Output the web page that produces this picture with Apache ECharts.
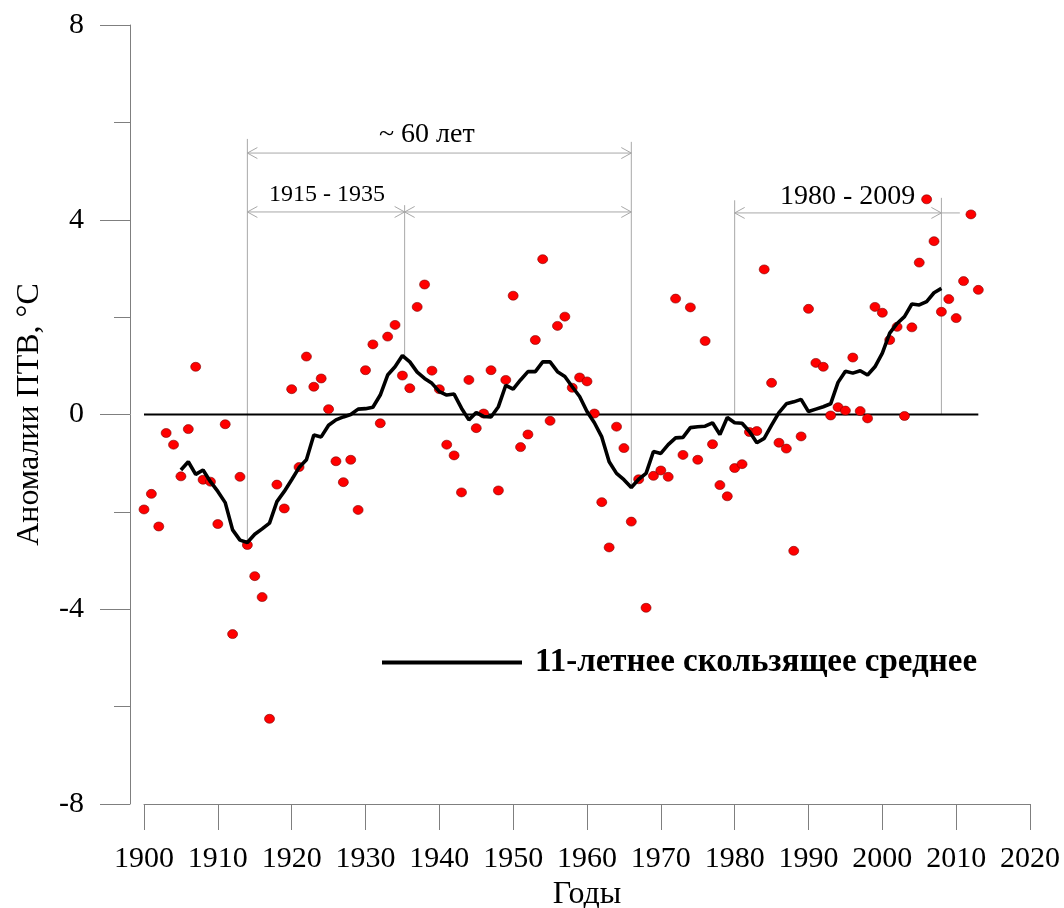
<!DOCTYPE html>
<html>
<head>
<meta charset="utf-8">
<script src="https://cdn.jsdelivr.net/npm/echarts@6/dist/echarts.min.js"></script>
<style>
  html, body { margin: 0; padding: 0; background: #fff; }
  #chart { width: 1064px; height: 908px; }
</style>
</head>
<body>
<div id="chart"></div>
<script>
// Annual air temperature anomalies (°C), one value per year starting at FIRST_YEAR
const FIRST_YEAR = 1900;
const anomalies = [
  -1.95, -1.63, -2.30, -0.38, -0.62, -1.27, -0.30, 0.98, -1.34, -1.38,
  -2.25, -0.20, -4.51, -1.28, -2.68, -3.32, -3.75, -6.25, -1.44, -1.93,
  0.52, -1.08, 1.19, 0.57, 0.74, 0.11, -0.96, -1.39, -0.93, -1.96,
  0.91, 1.44, -0.18, 1.60, 1.84, 0.80, 0.54, 2.21, 2.67, 0.90,
  0.52, -0.62, -0.84, -1.60, 0.71, -0.28, 0.02, 0.91, -1.56, 0.71,
  2.44, -0.67, -0.41, 1.53, 3.19, -0.13, 1.82, 2.01, 0.55, 0.76,
  0.68, 0.02, -1.80, -2.73, -0.25, -0.69, -2.20, -1.33, -3.97, -1.26,
  -1.15, -1.28, 2.38, -0.83, 2.20, -0.93, 1.51, -0.61, -1.45, -1.68,
  -1.10, -1.02, -0.36, -0.34, 2.98, 0.65, -0.58, -0.70, -2.80, -0.45,
  2.17, 1.06, 0.98, -0.02, 0.15, 0.08, 1.17, 0.07, -0.08, 2.21,
  2.09, 1.53, 1.80, -0.03, 1.79, 3.12, 4.42, 3.56, 2.11, 2.37,
  1.98, 2.74, 4.11, 2.56
];

// 11-year running mean, one value per year starting at MA_FIRST_YEAR
const MA_FIRST_YEAR = 1905;
const movingAverage = [
  -1.14, -0.97, -1.23, -1.14, -1.38, -1.58, -1.81, -2.37, -2.58, -2.63,
  -2.46, -2.35, -2.23, -1.79, -1.58, -1.34, -1.09, -0.93, -0.42, -0.46,
  -0.22, -0.11, -0.05, 0.00, 0.11, 0.12, 0.15, 0.40, 0.81, 0.98,
  1.21, 1.08, 0.87, 0.74, 0.64, 0.47, 0.40, 0.42, 0.13, -0.11,
  0.04, -0.04, -0.05, 0.16, 0.60, 0.52, 0.71, 0.88, 0.88, 1.08,
  1.08, 0.88, 0.78, 0.57, 0.37, 0.06, -0.17, -0.46, -0.97, -1.21,
  -1.34, -1.50, -1.33, -1.21, -0.76, -0.80, -0.62, -0.48, -0.47, -0.27,
  -0.25, -0.24, -0.17, -0.41, -0.06, -0.17, -0.18, -0.35, -0.58, -0.49,
  -0.22, 0.04, 0.22, 0.26, 0.31, 0.06, 0.11, 0.16, 0.22, 0.66,
  0.89, 0.85, 0.90, 0.81, 0.98, 1.26, 1.67, 1.87, 2.01, 2.27,
  2.25, 2.32, 2.50, 2.59
];

// Reference (zero) line span in years
const zeroLineYears = [1900, 2013];

// Period brackets in data units: [x1, y1, x2, y2, arrowheads (0 none, 3 both ends)]
const periodBrackets = [
  [1914, 5.66, 1914, -2.6, 0],
  [1935.3, 4.30, 1935.3, 1.2, 0],
  [1966, 5.60, 1966, -1.5, 0],
  [1980, 4.40, 1980, 0, 0],
  [2008, 4.45, 2008, 0, 0],
  [1914, 5.37, 1966, 5.37, 3],
  [1914, 4.16, 1935.3, 4.16, 3],
  [1935.3, 4.16, 1966, 4.16, 3],
  [1980, 4.14, 2008, 4.14, 3],
  [2008, 4.14, 2010.5, 4.14, 0]
];

// Bracket captions: [x, y, text]
const periodLabels = [
  [1938.3, 5.74, '~ 60 лет'],
  [1924.8, 4.51, '1915 - 1935'],
  [1995.3, 4.47, '1980 - 2009']
];
const periodLabelSizes = [28, 24, 28];

const SERIF = '"Liberation Serif", "Times New Roman", serif';
const AXIS_GRAY = '#7f7f7f';
const BRACKET_GRAY = '#a8a8a8';
const MA_NAME = '11-летнее скользящее среднее';

const scatterData = anomalies.map((v, i) => [FIRST_YEAR + i, v]);
const maData = movingAverage.map((v, i) => [MA_FIRST_YEAR + i, v]);

function renderBracket(params, api) {
  const p1 = api.coord([api.value(0), api.value(1)]);
  const p2 = api.coord([api.value(2), api.value(3)]);
  const heads = api.value(4);
  const children = [{
    type: 'line',
    shape: { x1: p1[0], y1: p1[1], x2: p2[0], y2: p2[1] },
    style: { stroke: BRACKET_GRAY, lineWidth: 1 }
  }];
  if (heads === 3) {
    const dx = p2[0] - p1[0], dy = p2[1] - p1[1];
    const len = Math.sqrt(dx * dx + dy * dy) || 1;
    const ux = dx / len, uy = dy / len;
    const L = 10, W = 5.5;
    const head = (p, s) => [
      [p[0] + s * ux * L - uy * W, p[1] + s * uy * L + ux * W],
      [p[0], p[1]],
      [p[0] + s * ux * L + uy * W, p[1] + s * uy * L - ux * W]
    ];
    children.push({ type: 'polyline', shape: { points: head(p1, 1) }, style: { stroke: BRACKET_GRAY, fill: null, lineWidth: 1 } });
    children.push({ type: 'polyline', shape: { points: head(p2, -1) }, style: { stroke: BRACKET_GRAY, fill: null, lineWidth: 1 } });
  }
  return { type: 'group', children };
}

function renderLabel(params, api) {
  const p = api.coord([api.value(0), api.value(1)]);
  return {
    type: 'text',
    x: p[0],
    y: p[1],
    style: {
      text: periodLabels[params.dataIndex][2],
      fill: '#000',
      font: periodLabelSizes[params.dataIndex] + 'px ' + SERIF,
      align: 'center',
      verticalAlign: 'middle'
    }
  };
}

const chart = echarts.init(document.getElementById('chart'), null, { renderer: 'canvas' });
chart.setOption({
  animation: false,
  backgroundColor: '#fff',
  grid: { left: 144, right: 34, top: 25, bottom: 104, outerBoundsMode: 'none' },
  legend: {
    data: [MA_NAME],
    left: 382,
    top: 646,
    padding: 0,
    icon: 'rect',
    itemWidth: 140,
    itemHeight: 4,
    textStyle: { fontFamily: SERIF, fontWeight: 'bold', fontSize: 33, color: '#000', padding: [0, 0, 0, 8] }
  },
  xAxis: {
    type: 'value',
    min: 1900,
    max: 2020,
    interval: 10,
    axisLine: { show: true, onZero: false, lineStyle: { color: AXIS_GRAY, width: 1 } },
    axisTick: { show: true, length: 26, lineStyle: { color: AXIS_GRAY } },
    axisLabel: { color: '#000', fontSize: 30, fontFamily: SERIF, margin: 40, formatter: v => String(v) },
    splitLine: { show: false },
    name: 'Годы',
    nameLocation: 'middle',
    nameGap: 72,
    nameTextStyle: { color: '#000', fontSize: 32, fontFamily: SERIF }
  },
  yAxis: {
    type: 'value',
    min: -8,
    max: 8,
    interval: 4,
    offset: 14,
    axisLine: { show: true, onZero: false, lineStyle: { color: AXIS_GRAY, width: 1 } },
    axisTick: { show: true, length: 30, lineStyle: { color: AXIS_GRAY } },
    minorTick: { show: true, splitNumber: 2, length: 16, lineStyle: { color: AXIS_GRAY } },
    axisLabel: { color: '#000', fontSize: 30, fontFamily: SERIF, margin: 46 },
    splitLine: { show: false },
    minorSplitLine: { show: false },
    name: 'Аномалии ПТВ, °С',
    nameLocation: 'middle',
    nameRotate: 90,
    nameGap: 84,
    nameTextStyle: { color: '#000', fontSize: 32, fontFamily: SERIF }
  },
  series: [
    {
      type: 'custom',
      name: 'brackets',
      renderItem: renderBracket,
      data: periodBrackets,
      encode: { x: [0, 2], y: [1, 3] },
      silent: true,
      clip: false,
      z: 1
    },
    {
      type: 'custom',
      name: 'bracketLabels',
      renderItem: renderLabel,
      data: periodLabels.map(d => [d[0], d[1]]),
      encode: { x: 0, y: 1 },
      silent: true,
      clip: false,
      z: 1
    },
    {
      type: 'line',
      name: 'zero',
      data: zeroLineYears.map(y => [y, 0]),
      symbol: 'none',
      lineStyle: { color: '#000', width: 1.8 },
      silent: true,
      z: 2
    },
    {
      type: 'scatter',
      name: 'anomaly',
      data: scatterData,
      symbol: 'circle',
      symbolSize: [10, 9],
      itemStyle: { color: '#ff0000', borderColor: '#7a0000', borderWidth: 0.6, opacity: 1 },
      z: 3
    },
    {
      type: 'line',
      name: MA_NAME,
      data: maData,
      symbol: 'none',
      itemStyle: { color: '#000' },
      lineStyle: { color: '#000', width: 3.6 },
      z: 4
    }
  ]
});
</script>
</body>
</html>
